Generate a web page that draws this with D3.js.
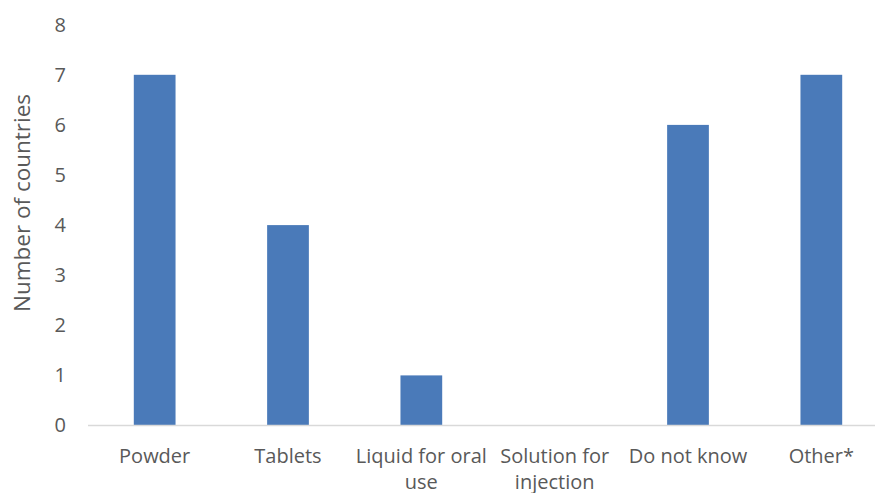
<!DOCTYPE html>
<html>
<head>
<meta charset="utf-8">
<script src="https://cdn.jsdelivr.net/npm/d3@7"></script>
<style>
  html, body { margin: 0; padding: 0; background: #fff; }
  svg { display: block; }
  text { font-family: "Open Sans", sans-serif; fill: #595959; }
</style>
</head>
<body>
<svg id="chart" width="875" height="493"></svg>
<script>
// Pharmaceutical forms reported and number of countries
const categories = ["Powder", "Tablets", "Liquid for oral use", "Solution for injection", "Do not know", "Other*"];
const categoryLines = [["Powder"], ["Tablets"], ["Liquid for oral", "use"], ["Solution for", "injection"], ["Do not know"], ["Other*"]];
const values = [7, 4, 1, 0, 6, 7];
const yTicks = [0, 1, 2, 3, 4, 5, 6, 7, 8];
const yTitle = "Number of countries";

const svg = d3.select("#chart");
const plot = { left: 88, right: 888, top: 24.7, bottom: 425.5 };

const x = d3.scaleBand()
  .domain(categories)
  .range([plot.left, plot.right])
  .paddingInner(0.687)
  .paddingOuter(0.3435);

const y = d3.scaleLinear().domain([0, 8]).range([plot.bottom, plot.top]);

// bars
svg.append("g").selectAll("rect")
  .data(categories.map((c, i) => ({ c, v: values[i] })))
  .join("rect")
  .attr("x", d => x(d.c))
  .attr("y", d => y(d.v))
  .attr("width", x.bandwidth())
  .attr("height", d => y(0) - y(d.v))
  .attr("fill", "#4a7ab9");

// baseline
svg.append("line")
  .attr("x1", plot.left).attr("x2", plot.right)
  .attr("y1", y(0)).attr("y2", y(0))
  .attr("stroke", "#d9d9d9").attr("stroke-width", 1.5);

// y tick labels
const yAxis = d3.axisLeft(y).tickValues(yTicks).tickSize(0).tickPadding(0);
const gy = svg.append("g").attr("transform", "translate(66,0)").call(yAxis);
gy.select(".domain").remove();
gy.selectAll("text")
  .attr("font-family", "'Open Sans', sans-serif")
  .attr("font-size", 20)
  .attr("fill", "#595959");

// category labels
const gx = svg.append("g");
categories.forEach((c, i) => {
  const cx = x(c) + x.bandwidth() / 2;
  const t = gx.append("text")
    .attr("text-anchor", "middle")
    .attr("font-size", 20)
    .attr("x", cx)
    .attr("y", 463);
  categoryLines[i].forEach((line, j) => {
    t.append("tspan")
      .attr("x", cx)
      .attr("dy", j === 0 ? 0 : 26)
      .text(line);
  });
});

// y axis title
svg.append("text")
  .attr("transform", "translate(30,203) rotate(-90)")
  .attr("text-anchor", "middle")
  .attr("font-size", 22.5)
  .text(yTitle);
</script>
</body>
</html>
